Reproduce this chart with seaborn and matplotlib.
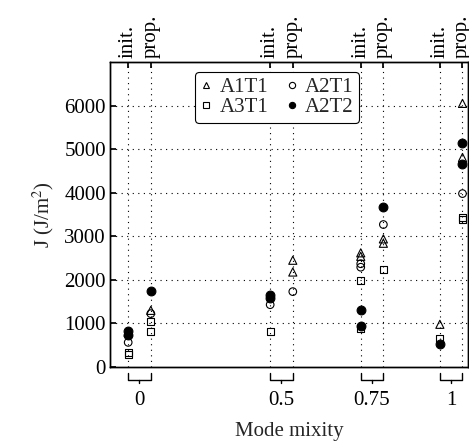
import numpy as np
import pandas as pd
import matplotlib
matplotlib.use("Agg")
import matplotlib.pyplot as plt
import matplotlib.transforms as mtransforms
from matplotlib.lines import Line2D
import seaborn as sns

# ---- data ----
mixity_labels = ["0", "0.5", "0.75", "1"]
phase_labels = ["init.", "prop."]
series_names = ["A1T1", "A2T1", "A3T1", "A2T2"]

# values per mixity: (init list, prop list)
A1T1_init = [[800], [], [2620, 2540], [980]]
A1T1_prop = [[1300], [2450, 2180], [2940, 2840], [6050, 4810]]
A2T1_init = [[565], [1430], [2370, 2290], []]
A2T1_prop = [[1225], [1730], [3270], [3980]]
A3T1_init = [[340, 280], [820], [1980, 880], [650]]
A3T1_prop = [[1050, 820], [], [2240], [3440, 3390]]
A2T2_init = [[820, 740], [1650, 1580], [1300, 950], [530]]
A2T2_prop = [[1750], [], [3680], [5130, 4650]]

series_data = {
    "A1T1": (A1T1_init, A1T1_prop),
    "A2T1": (A2T1_init, A2T1_prop),
    "A3T1": (A3T1_init, A3T1_prop),
    "A2T2": (A2T2_init, A2T2_prop),
}

# ---- layout (positions of the categories along x) ----
group_pos = [0.0824, 0.479, 0.732, 0.953]
offset = 0.0316

rows = []
for s, (ini, pro) in series_data.items():
    for i, m in enumerate(mixity_labels):
        for v in ini[i]:
            rows.append(dict(series=s, mixity=m, phase="init.", J=v,
                             x=group_pos[i] - offset))
        for v in pro[i]:
            rows.append(dict(series=s, mixity=m, phase="prop.", J=v,
                             x=group_pos[i] + offset))
df = pd.DataFrame(rows)

sns.set_theme(style="white")
plt.rcParams["font.family"] = ["Liberation Serif", "DejaVu Serif"]
plt.rcParams["mathtext.fontset"] = "stix"
FS = 15

fig = plt.figure(figsize=(4.69, 4.44), dpi=100)
ax = fig.add_axes([110 / 469, 1 - 367 / 444, 358 / 469, 305 / 444])

styles = {
    "A1T1": dict(marker="^", filled=False, s=34),
    "A2T1": dict(marker="o", filled=False, s=30),
    "A3T1": dict(marker="s", filled=False, s=26),
    "A2T2": dict(marker="o", filled=True, s=40),
}
for s in series_names:
    st = styles[s]
    sub = df[df.series == s]
    sns.scatterplot(data=sub, x="x", y="J", ax=ax, marker=st["marker"],
                    s=st["s"], color="black", edgecolor="black",
                    linewidth=0.8, legend=False, zorder=3)
    coll = ax.collections[-1]
    if not st["filled"]:
        coll.set_facecolor("none")

ax.set_xlim(0, 1)
ax.set_ylim(0, 7000)
ax.set_yticks(np.arange(0, 7000, 1000))
ax.tick_params(axis="y", direction="in", length=4, labelsize=FS, pad=3,
               left=True, colors="black")
tick_x = []
for p in group_pos:
    tick_x += [p - offset, p + offset]

# grid
for gx in tick_x:
    ax.axvline(gx, color="black", lw=0.8, ls=(0, (1, 4)), zorder=1)
for gy in range(1000, 7000, 1000):
    ax.axhline(gy, color="black", lw=0.8, ls=(0, (1, 4)), zorder=1)

# bottom: group labels
ax.set_xticks(group_pos)
ax.set_xticklabels(mixity_labels, fontsize=FS)
ax.tick_params(axis="x", length=0, pad=17, colors="black")
ax.set_xlabel("Mode mixity", fontsize=FS, labelpad=9)
ax.set_ylabel("J (J/m$^2$)", fontsize=FS, labelpad=6)

for sp in ax.spines.values():
    sp.set_color("black")
    sp.set_linewidth(1.0)

# brackets under each group
trans = mtransforms.blended_transform_factory(ax.transData, ax.transAxes)
for p in group_pos:
    xa, xb = p - offset, p + offset
    ax.plot([xa, xa, xb, xb], [-0.020, -0.041, -0.041, -0.020],
            color="black", lw=1.0, transform=trans, clip_on=False)
    ax.plot([p, p], [-0.041, -0.054], color="black", lw=1.0,
            transform=trans, clip_on=False)

# top axis: init. / prop.
ax2 = ax.twiny()
ax2.set_xlim(ax.get_xlim())
ax2.set_xticks(tick_x)
ax2.set_xticklabels(phase_labels * len(group_pos), rotation=90, fontsize=FS)
ax2.tick_params(axis="x", direction="in", length=4, pad=3, colors="black")
for sp in ax2.spines.values():
    sp.set_color("black")
    sp.set_linewidth(1.0)

# legend
def h(s):
    st = styles[s]
    return Line2D([], [], ls="none", marker=st["marker"], markersize=4.5,
                  markerfacecolor="black" if st["filled"] else "none",
                  markeredgecolor="black", markeredgewidth=0.8, label=s)
order = ["A1T1", "A3T1", "A2T1", "A2T2"]
leg = ax.legend(handles=[h(s) for s in order], ncol=2, loc="upper left",
                bbox_to_anchor=(0.237, 0.967), borderaxespad=0,
                fontsize=15, frameon=True, fancybox=True, handlelength=0.6,
                handletextpad=0.35, columnspacing=0.8, borderpad=0.25,
                labelspacing=0.05)
leg.get_frame().set_edgecolor("black")
leg.get_frame().set_linewidth(0.8)
leg.get_frame().set_alpha(1)
leg.set_zorder(5)

fig.savefig("out.png", dpi=100)
